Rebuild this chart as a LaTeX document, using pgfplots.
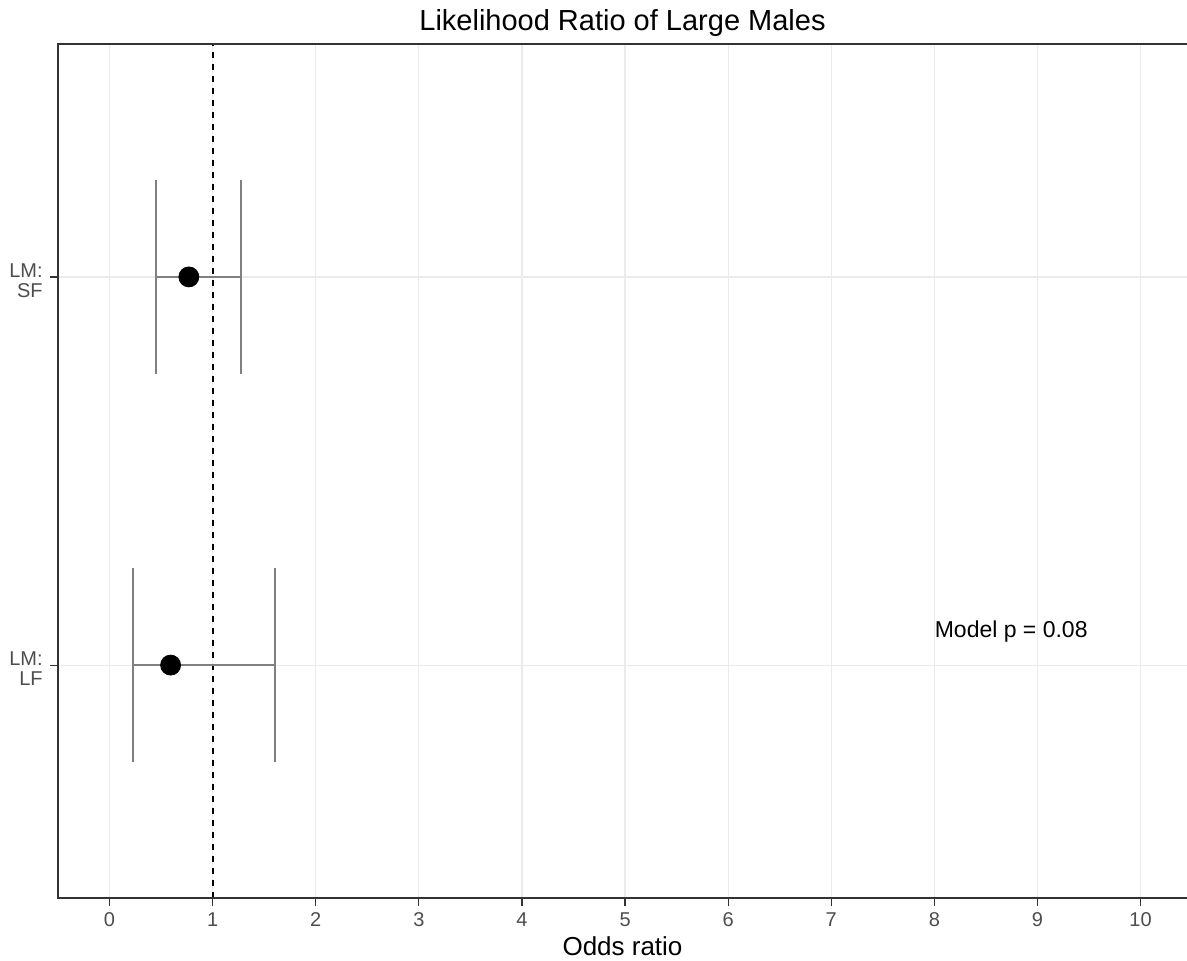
\documentclass[border=0pt]{standalone}
\usepackage{pgfplots}
\pgfplotsset{compat=1.18}
\usepackage{fontspec}
\setmainfont{Liberation Sans}

\definecolor{border}{RGB}{51,51,51}
\definecolor{ticktext}{RGB}{77,77,77}
\definecolor{gridc}{RGB}{235,235,235}
\definecolor{barc}{RGB}{128,128,128}

\begin{document}
\begin{tikzpicture}
\begin{axis}[
  name=ax,
  scale only axis,
  width=564.5pt, height=427pt,
  xmin=-0.5, xmax=10.45,
  ymin=0.4, ymax=2.6,
  xtick={0,1,...,10},
  ytick={1,2},
  yticklabels={{LM:\\LF},{LM:\\SF}},
  axis line style={draw=none},
  grid=major,
  major grid style={gridc, line width=0.6pt},
  tick align=outside,
  major tick length=4pt,
  tick style={border, line width=0.6pt},
  xtick pos=bottom, ytick pos=left,
  every tick label/.append style={text=ticktext},
  /pgf/number format/assume math mode=true,
  xticklabel style={font=\fontsize{10}{10}\selectfont, inner sep=0pt, anchor=base, yshift=-10pt},
  yticklabel style={font=\fontsize{10}{10}\selectfont, align=right, inner sep=0pt, anchor=east, xshift=-3.5pt, yshift=-2pt},
  xlabel={Odds ratio},
  xlabel style={font=\fontsize{13}{13}\selectfont, at={(axis description cs:0.5,0)}, anchor=base, yshift=-28.5pt},
  title={Likelihood Ratio of Large Males},
  title style={font=\fontsize{14.5}{14.5}\selectfont, at={(axis description cs:0.5,1)}, anchor=base, yshift=1pt},
  clip=false,
]
% reference line at an odds ratio of 1
\addplot[black, line width=1pt, dash pattern=on 3pt off 3pt] coordinates {(1,0.4) (1,2.6)};
% confidence interval, LM:LF (0.226 -- 1.603)
\addplot[barc, line width=0.8pt] coordinates {(0.226,1) (1.603,1)};
\addplot[barc, line width=0.8pt] coordinates {(0.226,0.75) (0.226,1.25)};
\addplot[barc, line width=0.8pt] coordinates {(1.603,0.75) (1.603,1.25)};
% confidence interval, LM:SF (0.453 -- 1.274)
\addplot[barc, line width=0.8pt] coordinates {(0.453,2) (1.274,2)};
\addplot[barc, line width=0.8pt] coordinates {(0.453,1.75) (0.453,2.25)};
\addplot[barc, line width=0.8pt] coordinates {(1.274,1.75) (1.274,2.25)};
% point estimates
\addplot[only marks, mark=*, mark size=5pt, black] coordinates {(0.592,1) (0.769,2)};
\node[anchor=base west, inner sep=0pt, font=\fontsize{11.5}{11.5}\selectfont] at (axis cs:8,1.07) {Model p = 0.08};
% panel border (open on the right)
\draw[border, line width=1pt] (rel axis cs:1,0) -- (rel axis cs:0,0) -- (rel axis cs:0,1) -- (rel axis cs:1,1);
\end{axis}
\pgfresetboundingbox
\path[use as bounding box] ([xshift=-29pt,yshift=-31pt]ax.south west) rectangle ([yshift=22pt]ax.north east);
\end{tikzpicture}
\end{document}
